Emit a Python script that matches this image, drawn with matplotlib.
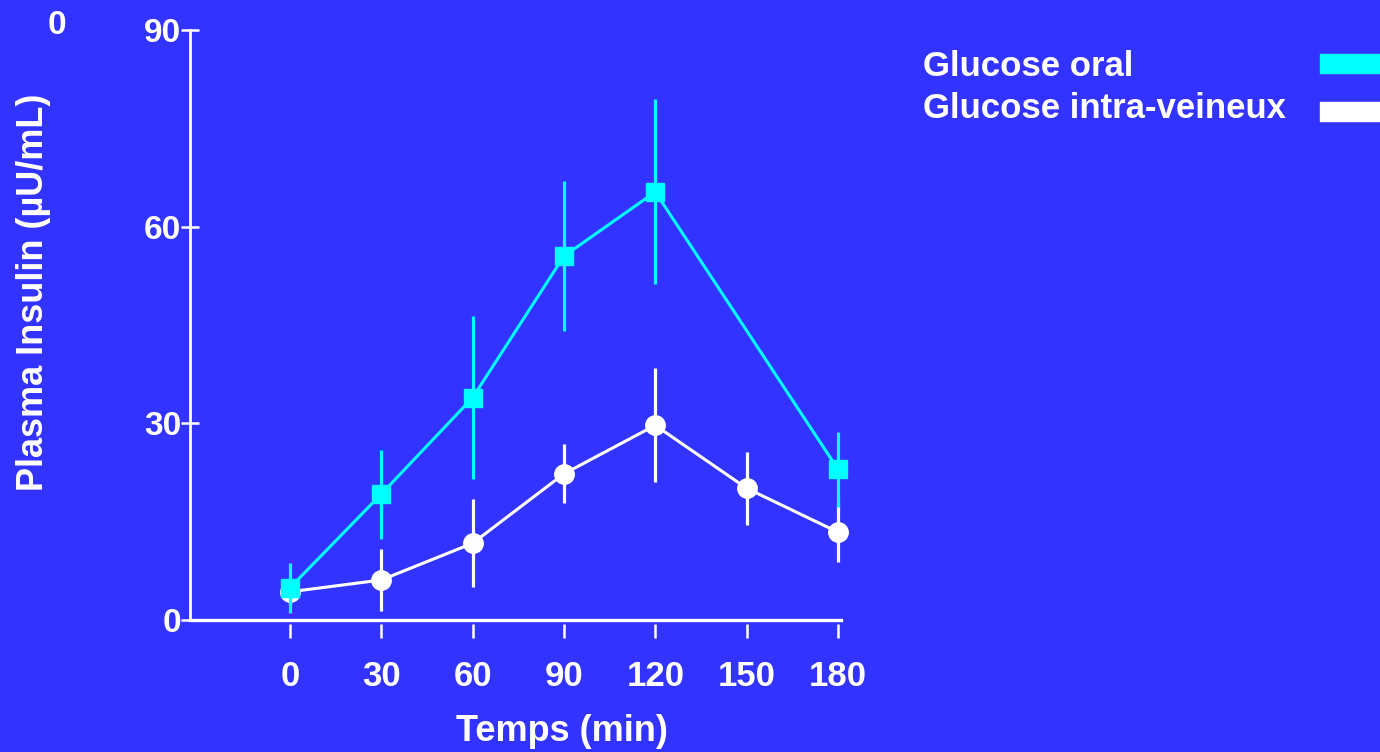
import matplotlib
matplotlib.use("Agg")
import matplotlib.pyplot as plt
import matplotlib.patches as mpatches

# temps (min)
t_oral = [0, 30, 60, 90, 120, 180]
ins_oral = [4.9, 19.2, 33.9, 55.5, 65.3, 23.0]
err_oral = [3.8, 6.8, 12.4, 11.4, 14.1, 5.7]

t_iv = [0, 30, 60, 90, 120, 150, 180]
ins_iv = [4.3, 6.1, 11.7, 22.3, 29.7, 20.1, 13.4]
err_iv = [2.0, 4.7, 6.7, 4.5, 8.7, 5.6, 4.6]

xticks = [0, 30, 60, 90, 120, 150, 180]
yticks = [0, 30, 60, 90]

bg = "#3333ff"
cyan = "#00ffff"
white = "#ffffff"

plt.rcParams["font.family"] = ["Liberation Sans", "DejaVu Sans"]
plt.rcParams["font.weight"] = "bold"

fig = plt.figure(figsize=(13.8, 7.52), dpi=100, facecolor=bg)
ax = fig.add_axes([190 / 1380, 132 / 752, 651 / 1380, 590 / 752])
ax.set_facecolor(bg)

ax.errorbar(t_iv, ins_iv, yerr=err_iv, color=white, lw=2.2, marker="o", ms=14,
            elinewidth=2.3, capsize=0, zorder=3, clip_on=False)
ax.errorbar(t_oral, ins_oral, yerr=err_oral, color=cyan, lw=2.2, marker="s", ms=13,
            elinewidth=2.3, capsize=0, zorder=4, clip_on=False)

ax.set_xlim(-32.8, 181)
ax.set_ylim(0, 90)

for s in ["top", "right"]:
    ax.spines[s].set_visible(False)
ax.spines["left"].set_color(white)
ax.spines["left"].set_linewidth(2.0)
ax.spines["bottom"].set_position(("outward", 3))
ax.spines["bottom"].set_visible(False)
ax.axhline(0, color=white, lw=2.4, clip_on=False, zorder=2)

ax.set_xticks(xticks)
ax.set_yticks(yticks)
ax.tick_params(axis="x", direction="out", length=10, width=1.8, color=white,
               labelcolor=white, labelsize=25, pad=16)
ax.tick_params(axis="y", direction="inout", length=13, width=1.8, color=white,
               labelcolor=white, labelsize=24, pad=0)
for lab in ax.get_xticklabels() + ax.get_yticklabels():
    lab.set_fontweight("bold")

ax.set_xlabel("Temps (min)", color=white, fontsize=26, fontweight="bold", va="center")
ax.xaxis.set_label_coords(0.571, -0.189)
ax.set_ylabel("Plasma Insulin (µU/mL)", color=white, fontsize=26, fontweight="bold",
              va="center")
ax.yaxis.set_label_coords(-0.240, 0.556)

fig.text(57 / 1380, 1 - 25 / 752, "0", color=white, fontsize=24, fontweight="bold",
         ha="center", va="center")

# legende
fig.text(923 / 1380, 1 - 66 / 752, "Glucose oral", color=white, fontsize=25,
         fontweight="bold", ha="left", va="center")
fig.text(923 / 1380, 1 - 108 / 752, "Glucose intra-veineux", color=white, fontsize=25,
         fontweight="bold", ha="left", va="center")
fig.patches.append(mpatches.Rectangle((1320 / 1380, 1 - 73 / 752), 60 / 1380, 19 / 752,
                                      transform=fig.transFigure, color=cyan))
fig.patches.append(mpatches.Rectangle((1320 / 1380, 1 - 121 / 752), 60 / 1380, 19 / 752,
                                      transform=fig.transFigure, color=white))

fig.savefig("out.png", dpi=100, facecolor=bg)
